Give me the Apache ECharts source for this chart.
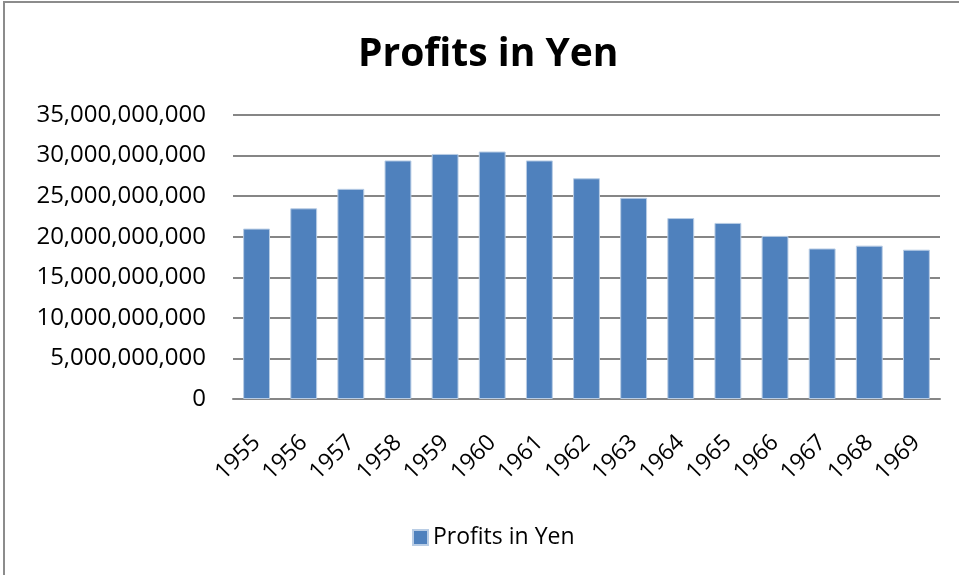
<!DOCTYPE html>
<html>
<head>
<meta charset="utf-8">
<script src="https://cdn.jsdelivr.net/npm/echarts@6/dist/echarts.min.js"></script>
<style>
    html, body { margin: 0; padding: 0; background: #fff; }
    #frame { position: absolute; left: 3px; top: 1px; width: 956px; height: 574px;
             border-left: 2px solid #8c8c8c; border-top: 2px solid #8c8c8c; box-sizing: border-box; }
    #chart { position: absolute; left: 0; top: 0; width: 959px; height: 575px; }
</style>
</head>
<body>
<div id="frame"></div>
<div id="chart"></div>
<script>
    // data
    var years = ['1955', '1956', '1957', '1958', '1959', '1960', '1961', '1962',
                 '1963', '1964', '1965', '1966', '1967', '1968', '1969'];
    var profits = [21.0e9, 23.5e9, 25.9e9, 29.4e9, 30.2e9, 30.5e9, 29.4e9, 27.2e9,
                   24.8e9, 22.3e9, 21.7e9, 20.1e9, 18.55e9, 18.9e9, 18.4e9];
    var seriesName = 'Profits in Yen';

    var font = 'Open Sans';
    var myChart = echarts.init(document.getElementById('chart'));

    var option = {
        animation: false,
        title: {
            text: 'Profits in Yen',
            left: 353,
            top: 30,
            textStyle: { fontFamily: font, fontWeight: 'bold', fontSize: 39, color: '#000' }
        },
        legend: {
            bottom: 21,
            left: 407,
            itemWidth: 15,
            itemHeight: 15,
            icon: 'rect',
            itemGap: 8,
            textStyle: { fontFamily: font, fontSize: 23, color: '#000' },
            data: [seriesName]
        },
        grid: {
            left: 233,
            right: 19,
            top: 115,
            bottom: 176
        },
        xAxis: {
            type: 'category',
            data: years,
            axisLine: { lineStyle: { color: '#868686', width: 2 } },
            axisTick: { show: false },
            axisLabel: {
                rotate: 45,
                margin: 40,
                fontFamily: font,
                fontSize: 23,
                color: '#000'
            }
        },
        yAxis: {
            type: 'value',
            min: 0,
            max: 35000000000,
            interval: 5000000000,
            axisLine: { show: false },
            axisTick: { show: false },
            splitLine: { lineStyle: { color: '#868686', width: 2 } },
            axisLabel: {
                margin: 27,
                fontFamily: font,
                fontSize: 24,
                color: '#000',
                formatter: function (v) {
                    return v.toString().replace(/\B(?=(\d{3})+(?!\d))/g, ',');
                }
            }
        },
        series: [{
            name: seriesName,
            type: 'bar',
            data: profits,
            barCategoryGap: '43%',
            itemStyle: {
                color: '#4F81BD',
                borderColor: '#B9CDE5',
                borderWidth: 1
            }
        }]
    };

    myChart.setOption(option);
</script>
</body>
</html>
